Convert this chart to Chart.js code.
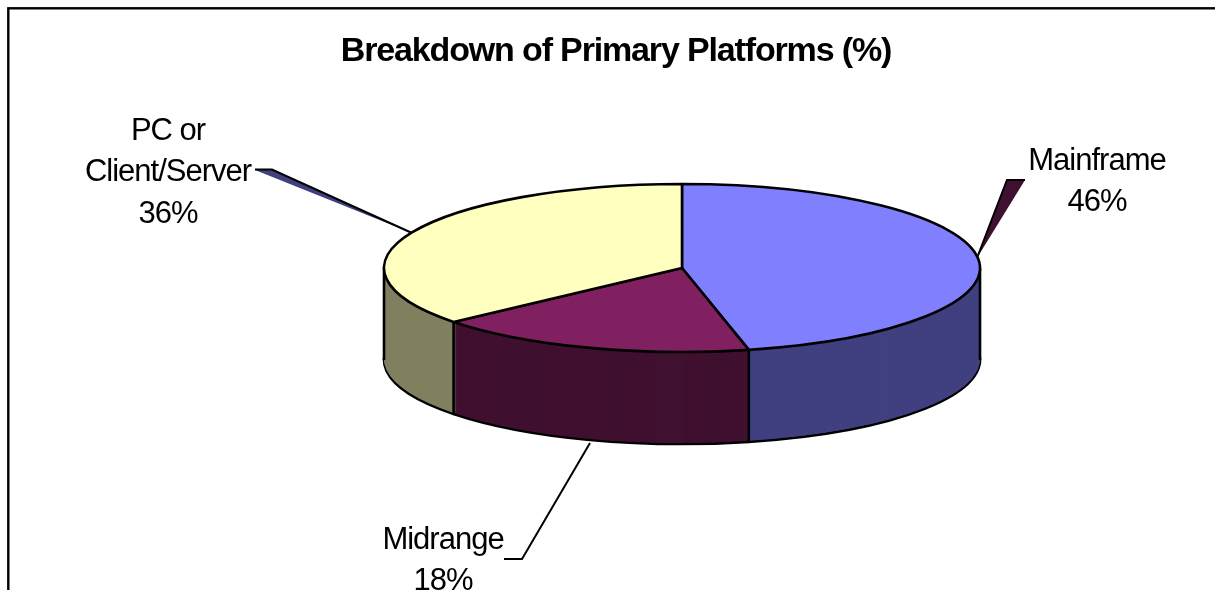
<!DOCTYPE html>
<html>
<head>
<meta charset="utf-8">
<title>Breakdown of Primary Platforms</title>
<script src="https://cdn.jsdelivr.net/npm/chart.js@4/dist/chart.umd.js"></script>
<style>
    html, body { margin: 0; padding: 0; width: 1215px; height: 590px; overflow: hidden; background: #ffffff; }
    canvas { position: absolute; left: 0; top: 0; }
</style>
</head>
<body>
<canvas id="platformChart" width="1232" height="640"></canvas>
<script>
const chartTitle = "Breakdown of Primary Platforms (%)"
const categories = ["Mainframe", "Midrange", "PC or\nClient/Server"]
// read from the slice seams, the labels show them rounded
const percents = [46.4, 17.5, 36.1]

const topColors = ["#8080ff", "#802060", "#ffffc0"]
const sideColors = ["#404080", "#401030", "#808060"]

const FONT = "'Liberation Sans', Arial, sans-serif"
const OUTLINE = 2.6
// where the tilted pie sits on the canvas
const pieBox = { cx: 682, cy: 268, rx: 298, ry: 84, depth: 92 }
const labelBoxes = [
    { x: 1097, y: 161 },
    { x: 443, y: 540 },
    { x: 168, y: 131 }
]

function drawArcAt(ctx, arc, offset, fill, lineWidth) {
    const p = arc.getProps(["x", "y", "outerRadius"], true)
    const sx = pieBox.rx / p.outerRadius
    const sy = pieBox.ry / p.outerRadius
    const saved = arc.options
    arc.options = Object.assign({}, saved, { backgroundColor: fill, borderColor: "#000000", borderWidth: lineWidth })
    ctx.save()
    ctx.translate(pieBox.cx, pieBox.cy + offset)
    ctx.scale(sx, sy)
    ctx.translate(-p.x, -p.y)
    // stroke in plain pixels so the outline is not squashed with the pie
    const plainStroke = ctx.stroke
    ctx.stroke = function () {
        ctx.save()
        ctx.setTransform(1, 0, 0, 1, 0, 0)
        plainStroke.call(ctx)
        ctx.restore()
    }
    arc.draw(ctx)
    delete ctx.stroke
    ctx.restore()
    arc.options = saved
}

function wallLine(ctx, x, y) {
    ctx.beginPath()
    ctx.moveTo(x, y)
    ctx.lineTo(x, y + pieBox.depth)
    ctx.stroke()
}

const tiltedPie = {
    id: "tiltedPie",
    beforeDraw(chart) {
        // title is squeezed like the original
        chart.ctx.letterSpacing = "-1.15px"
    },
    beforeDatasetsDraw(chart) {
        const ctx = chart.ctx
        const arcs = chart.getDatasetMeta(0).data
        // wall, stacked from the bottom up
        for (let d = pieBox.depth; d > 0; d--) {
            arcs.forEach((arc, i) => drawArcAt(ctx, arc, d, sideColors[i], d === pieBox.depth ? OUTLINE : 0))
        }
        ctx.save()
        ctx.strokeStyle = "#000000"
        ctx.lineWidth = OUTLINE
        wallLine(ctx, pieBox.cx - pieBox.rx, pieBox.cy)
        wallLine(ctx, pieBox.cx + pieBox.rx, pieBox.cy)
        // seams on the front of the wall
        arcs.slice(0, 2).forEach((arc) => {
            const end = arc.getProps(["endAngle"], true).endAngle
            wallLine(ctx, pieBox.cx + pieBox.rx * Math.cos(end), pieBox.cy + pieBox.ry * Math.sin(end))
        })
        ctx.restore()
        arcs.forEach((arc, i) => drawArcAt(ctx, arc, 0, topColors[i], OUTLINE))
        return false
    },
    afterDraw(chart) {
        const ctx = chart.ctx
        ctx.save()
        // outer frame, runs off the right and bottom of the window
        ctx.strokeStyle = "#000000"
        ctx.lineWidth = 2.4
        ctx.strokeRect(8.3, 8.3, 1400, 800)

        // leader wedges
        ctx.lineWidth = 2
        ctx.fillStyle = sideColors[0]
        ctx.beginPath()
        ctx.moveTo(255, 170)
        ctx.lineTo(272, 169.5)
        ctx.lineTo(412, 233)
        ctx.closePath()
        ctx.fill()
        ctx.beginPath()
        ctx.moveTo(255, 169.5)
        ctx.lineTo(272, 169.5)
        ctx.lineTo(412, 233)
        ctx.stroke()

        ctx.fillStyle = sideColors[1]
        ctx.beginPath()
        ctx.moveTo(977, 258)
        ctx.lineTo(1007, 180)
        ctx.lineTo(1025, 180)
        ctx.closePath()
        ctx.fill()
        ctx.beginPath()
        ctx.moveTo(977, 258)
        ctx.lineTo(1007, 180)
        ctx.lineTo(1025, 180)
        ctx.stroke()

        ctx.beginPath()
        ctx.moveTo(590, 443)
        ctx.lineTo(522, 559)
        ctx.lineTo(504, 559)
        ctx.stroke()

        // labels
        ctx.fillStyle = "#000000"
        ctx.font = "31px " + FONT
        ctx.letterSpacing = "-1px"
        ctx.textAlign = "center"
        ctx.textBaseline = "middle"
        categories.forEach((name, i) => {
            const lines = name.split("\n").concat(Math.round(percents[i]) + "%")
            lines.forEach((line, n) => {
                ctx.fillText(line, labelBoxes[i].x, labelBoxes[i].y + n * 41.5)
            })
        })
        ctx.restore()
    }
}

new Chart(document.getElementById("platformChart"), {
    type: "pie",
    data: {
        labels: categories,
        datasets: [
            {
                data: percents,
                backgroundColor: topColors
            }
        ]
    },
    options: {
        responsive: false,
        animation: false,
        plugins: {
            legend: { display: false },
            tooltip: { enabled: false },
            title: {
                display: true,
                text: chartTitle,
                color: "#000000",
                font: { family: FONT, size: 34, weight: "bold" },
                padding: { top: 31, bottom: 10 }
            }
        }
    },
    plugins: [tiltedPie]
})
</script>
</body>
</html>
